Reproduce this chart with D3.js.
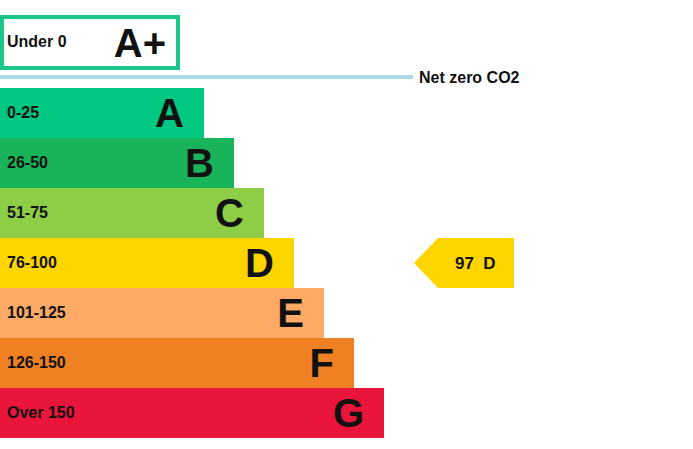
<!DOCTYPE html>
<html>
<head>
<meta charset="utf-8">
<script src="https://cdn.jsdelivr.net/npm/d3@7"></script>
<style>
  html, body { margin: 0; padding: 0; background: #fff; }
  svg { display: block; font-family: "Liberation Sans", Arial, sans-serif; }
</style>
</head>
<body>
<svg id="chart" width="693" height="449"></svg>
<script>
// ---- data ----
const ratings = ["A", "B", "C", "D", "E", "F", "G"];
const ranges = ["0-25", "26-50", "51-75", "76-100", "101-125", "126-150", "Over 150"];
const ratingColors = ["#00c781", "#19b459", "#8dce46", "#ffd500", "#fcaa65", "#ef8023", "#e9153b"];
const topRating = "A+";
const topRange = "Under 0";
const netZeroLabel = "Net zero CO2";
const currentScore = 97;
const currentRating = "D";

// ---- layout ----
const svg = d3.select("#chart");

const y = d3.scaleBand().domain(ratings).range([88, 438]).padding(0);
const w = d3.scaleLinear().domain([0, ratings.length - 1]).range([204, 384]);

// A+ box
svg.append("rect")
  .attr("x", 2).attr("y", 17).attr("width", 176).attr("height", 51)
  .attr("fill", "#fff").attr("stroke", "#1cc689").attr("stroke-width", 4);
svg.append("text")
  .attr("x", 7).attr("y", 47)
  .attr("font-size", 16).attr("font-weight", "bold").attr("fill", "#111")
  .text(topRange);
svg.append("text")
  .attr("x", 166).attr("y", 57).attr("text-anchor", "end")
  .attr("font-size", 40).attr("font-weight", "bold").attr("fill", "#111")
  .text(topRating);

// Net zero line
svg.append("rect")
  .attr("x", 0).attr("y", 75).attr("width", 413).attr("height", 4)
  .attr("fill", "#add8e6");
svg.append("text")
  .attr("x", 419).attr("y", 83)
  .attr("font-size", 16).attr("font-weight", "bold").attr("fill", "#111")
  .text(netZeroLabel);

// Bars
const g = svg.append("g");
const bars = g.selectAll("g.band").data(ratings).join("g").attr("class", "band");
bars.append("rect")
  .attr("x", 0)
  .attr("y", d => y(d))
  .attr("width", (d, i) => w(i))
  .attr("height", y.bandwidth())
  .attr("fill", (d, i) => ratingColors[i]);
bars.append("text")
  .attr("x", 7)
  .attr("y", d => y(d) + y.bandwidth() / 2 + 5)
  .attr("font-size", 16).attr("font-weight", "bold").attr("fill", "#111")
  .text((d, i) => ranges[i]);
bars.append("text")
  .attr("x", (d, i) => w(i) - 20)
  .attr("y", d => y(d) + y.bandwidth() / 2 + 14)
  .attr("text-anchor", "end")
  .attr("font-size", 40).attr("font-weight", "bold").attr("fill", "#111")
  .text(d => d);

// Current rating arrow
const ci = ratings.indexOf(currentRating);
const y0 = y(currentRating), y1 = y0 + y.bandwidth(), ym = y0 + y.bandwidth() / 2;
const tipX = 414, bodyX = 438, endX = 514;
svg.append("path")
  .attr("d", `M${tipX},${ym} L${bodyX},${y0} L${endX},${y0} L${endX},${y1} L${bodyX},${y1} Z`)
  .attr("fill", ratingColors[ci]);
svg.append("text")
  .attr("x", 455).attr("y", ym + 6)
  .attr("font-size", 17).attr("font-weight", "bold").attr("fill", "#111")
  .attr("xml:space", "preserve")
  .text(currentScore + "  " + currentRating);
</script>
</body>
</html>
